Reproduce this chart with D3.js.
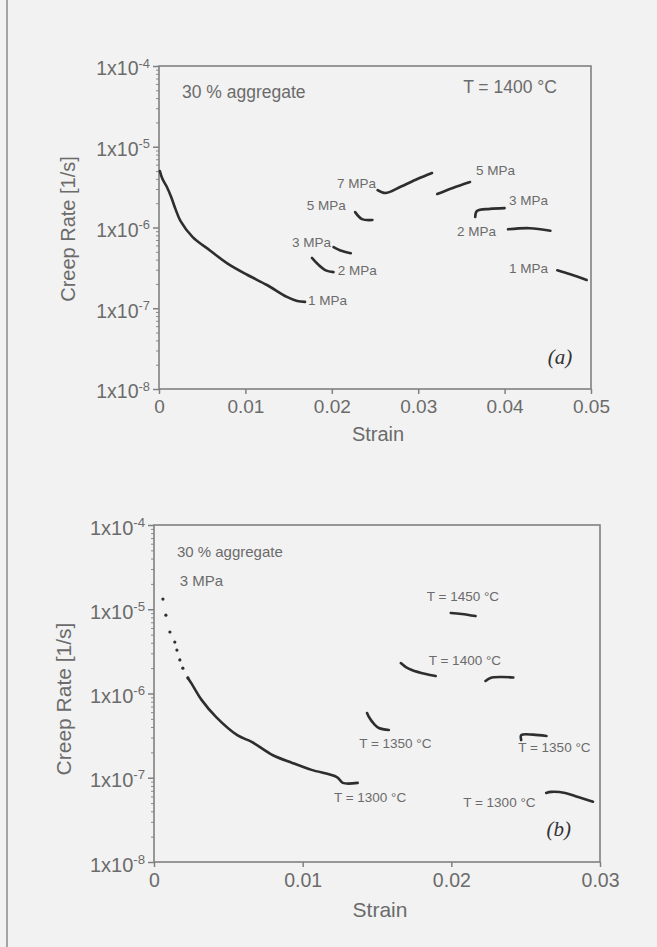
<!DOCTYPE html>
<html>
<head>
<meta charset="utf-8">
<script src="https://cdn.jsdelivr.net/npm/d3@7"></script>
<style>
  body { margin: 0; background: #f2f2f2; }
  svg { display: block; }
  text { font-family: "Liberation Sans", Arial, sans-serif; fill: #6b6b6b; }
</style>
</head>
<body>
<script>
// ---------- data, panel (a): T = 1400 C, creep rate vs strain ----------
var a1MPa = [[0.0001,5.0e-6],[0.0004,4.0e-6],[0.0009,3.2e-6],[0.0014,2.4e-6],[0.0019,1.7e-6],
  [0.0025,1.2e-6],[0.0039,7.6e-7],[0.0059,5.2e-7],[0.0079,3.6e-7],[0.0102,2.6e-7],
  [0.0125,1.94e-7],[0.0148,1.38e-7],[0.016,1.23e-7],[0.0169,1.2e-7]];
var a2MPa = [[0.0177,4.2e-7],[0.0184,3.5e-7],[0.0193,2.95e-7],[0.0202,2.8e-7]];
var a3MPa = [[0.0202,5.7e-7],[0.021,5.2e-7],[0.0222,4.8e-7]];
var a5MPa = [[0.0227,1.55e-6],[0.0235,1.27e-6],[0.0247,1.24e-6]];
var a7MPa = [[0.0253,2.9e-6],[0.0262,2.67e-6],[0.0279,3.17e-6],[0.0299,3.98e-6],[0.0316,4.73e-6]];
var a5MPaB = [[0.0322,2.6e-6],[0.034,3.09e-6],[0.036,3.66e-6]];
var a3MPaB = [[0.0366,1.35e-6],[0.0368,1.6e-6],[0.0383,1.7e-6],[0.04,1.74e-6]];
var a2MPaB = [[0.0404,9.5e-7],[0.0429,9.8e-7],[0.0453,9.1e-7]];
var a1MPaB = [[0.0461,2.95e-7],[0.0476,2.63e-7],[0.0495,2.24e-7]];
var seriesA = [a1MPa, a2MPa, a3MPa, a5MPa, a7MPa, a5MPaB, a3MPaB, a2MPaB, a1MPaB];

// labels of panel (a) in data units [text, strain, rate]
var labelsA = [["1 MPa",0.01725,1.26e-7],["2 MPa",0.0207,2.95e-7],["3 MPa",0.0154,6.6e-7],
  ["5 MPa",0.0171,1.86e-6],["7 MPa",0.0206,3.55e-6],["5 MPa",0.0367,5.1e-6],
  ["3 MPa",0.0405,2.2e-6],["2 MPa",0.0345,9.1e-7],["1 MPa",0.0405,3.16e-7]];
var notesA = [["30 % aggregate",0.00266,4.8e-5],["T = 1400 °C",0.0352,5.5e-5]];

// ---------- data, panel (b): 3 MPa, temperature steps ----------
var b1300Dots = [[0.0006,1.32e-5],[0.0008,8.5e-6],[0.00107,5.37e-6],[0.0014,4.08e-6],
  [0.00154,3.28e-6],[0.00174,2.5e-6],[0.00194,2.0e-6],[0.00228,1.53e-6]];
var b1300 = [[0.00228,1.53e-6],[0.00254,1.3e-6],[0.0032,8.4e-7],[0.0042,5.2e-7],[0.0056,3.2e-7],
  [0.0066,2.65e-7],[0.008,1.85e-7],[0.0093,1.5e-7],[0.0106,1.24e-7],[0.0123,1.02e-7],
  [0.0127,8.7e-8],[0.0137,8.7e-8]];
var b1350 = [[0.01433,5.87e-7],[0.01446,5.26e-7],[0.0148,4.35e-7],[0.01513,3.9e-7],[0.0158,3.69e-7]];
var b1400 = [[0.0166,2.3e-6],[0.01694,2.06e-6],[0.01734,1.9e-6],[0.01828,1.7e-6],[0.01895,1.61e-6]];
var b1450 = [[0.01996,9.04e-6],[0.0207,8.8e-6],[0.02163,8.3e-6]];
var b1400B = [[0.0223,1.41e-6],[0.02263,1.53e-6],[0.02337,1.57e-6],[0.02417,1.55e-6]];
var b1350B = [[0.0247,2.8e-7],[0.0247,3.2e-7],[0.0255,3.25e-7],[0.0264,3.13e-7]];
var b1300B = [[0.02638,6.6e-8],[0.02672,6.8e-8],[0.02766,6.6e-8],[0.02853,5.9e-8],[0.02953,5.2e-8]];
var seriesB = [b1300, b1350, b1400, b1450, b1400B, b1350B, b1300B];

var labelsB = [["T = 1450 °C",0.01835,1.44e-5],["T = 1400 °C",0.01848,2.5e-6],
  ["T = 1350 °C",0.0138,2.6e-7],["T = 1350 °C",0.0245,2.3e-7],
  ["T = 1300 °C",0.0121,5.9e-8],["T = 1300 °C",0.0208,5.1e-8]];
var notesB = [["30 % aggregate",0.00154,4.8e-5],["3 MPa",0.00174,2.2e-5]];

var yTicks = [1e-4, 1e-5, 1e-6, 1e-7, 1e-8];
var xTicksA = [0, 0.01, 0.02, 0.03, 0.04, 0.05];
var xTicksB = [0, 0.01, 0.02, 0.03];

var svg = d3.select("body").append("svg")
    .attr("width", 657)
    .attr("height", 947);

// page edge of the scan
svg.append("line")
    .attr("x1", 7).attr("x2", 7).attr("y1", 0).attr("y2", 947)
    .style("stroke", "#8a8a8a").style("stroke-width", 1.5);

function drawPanel(p) {
  var x = d3.scaleLinear().domain(p.xDomain).range([p.left, p.right]);
  var y = d3.scaleLog().domain([1e-8, 1e-4]).range([p.bottom, p.top]);

  var line = d3.line()
      .curve(d3.curveCatmullRom.alpha(0.5))
      .x(function(d) { return x(d[0]); })
      .y(function(d) { return y(d[1]); });

  // minor log ticks
  var minor = [];
  for (var e = -8; e < -4; e++) {
    for (var k = 2; k < 10; k++) minor.push(k * Math.pow(10, e));
  }
  svg.append("g")
      .attr("transform", "translate(" + p.left + ",0)")
      .call(d3.axisLeft(y).tickValues(minor).tickSize(3).tickFormat(""))
      .call(function(g) { g.select(".domain").remove(); })
      .selectAll("line").style("stroke", "#8a8a8a");

  // y axis with 1x10^n labels
  var ya = svg.append("g")
      .attr("transform", "translate(" + p.left + ",0)")
      .call(d3.axisLeft(y).tickValues(yTicks).tickSize(6).tickPadding(3).tickFormat(""));
  ya.select(".domain").remove();
  ya.selectAll("line").style("stroke", "#808080").style("stroke-width", 1.5);
  ya.selectAll(".tick text").each(function(d) {
    var t = d3.select(this)
        .attr("font-size", p.tickFont)
        .attr("dy", "0.45em")
        .style("fill", "#6b6b6b");
    t.append("tspan").text("1x10");
    t.append("tspan")
        .attr("dy", "-0.6em")
        .attr("font-size", p.tickFont * 0.66)
        .text(Math.round(Math.log10(d)));
  });

  // x axis
  var xa = svg.append("g")
      .attr("transform", "translate(0," + p.bottom + ")")
      .call(d3.axisBottom(x).tickValues(p.xTicks).tickSize(5).tickPadding(6)
        .tickFormat(function(d) { return d === 0 ? "0" : d3.format(".2f")(d); }));
  xa.select(".domain").remove();
  xa.selectAll("line").style("stroke", "#808080").style("stroke-width", 1.5);
  xa.selectAll("text").attr("font-size", p.tickFont - 0.5).style("fill", "#6b6b6b");

  // frame
  svg.append("rect")
      .attr("x", p.left).attr("y", p.top)
      .attr("width", p.right - p.left).attr("height", p.bottom - p.top)
      .style("fill", "none").style("stroke", "#808080").style("stroke-width", 1.6);

  // axis titles
  svg.append("text")
      .attr("x", (p.left + p.right) / 2 + 3)
      .attr("y", p.bottom + p.titleGap)
      .attr("text-anchor", "middle")
      .attr("font-size", p.titleFont)
      .text("Strain");
  svg.append("text")
      .attr("transform", "translate(" + p.yTitleX + "," + p.yTitleY + ") rotate(-90)")
      .attr("text-anchor", "middle")
      .attr("font-size", p.titleFont)
      .text("Creep Rate [1/s]");

  // curves
  p.series.forEach(function(s) {
    svg.append("path")
        .datum(s)
        .attr("d", line)
        .style("fill", "none")
        .style("stroke", "#2e2e2e")
        .style("stroke-width", 2.6)
        .style("stroke-linejoin", "round")
        .style("stroke-linecap", "round");
  });
  if (p.dots) {
    svg.selectAll(null)
        .data(p.dots)
      .enter().append("circle")
        .attr("cx", function(d) { return x(d[0]); })
        .attr("cy", function(d) { return y(d[1]); })
        .attr("r", 1.6)
        .style("fill", "#2e2e2e");
  }

  // annotations
  p.labels.forEach(function(l) {
    svg.append("text")
        .attr("x", x(l[1])).attr("y", y(l[2]))
        .attr("dy", "0.35em")
        .attr("font-size", p.labelFont)
        .text(l[0]);
  });
  p.notes.forEach(function(l) {
    svg.append("text")
        .attr("x", x(l[1])).attr("y", y(l[2]))
        .attr("dy", "0.35em")
        .attr("font-size", p.noteFont)
        .text(l[0]);
  });
  svg.append("text")
      .attr("x", x(p.tag[1])).attr("y", y(p.tag[2]))
      .attr("dy", "0.35em")
      .attr("font-size", 21)
      .style("font-family", "'Liberation Serif', 'DejaVu Serif', serif")
      .style("font-style", "italic")
      .style("fill", "#333")
      .text(p.tag[0]);
}

drawPanel({
  left: 159, right: 591, top: 66, bottom: 389,
  xDomain: [0, 0.05], xTicks: xTicksA,
  series: seriesA, labels: labelsA, notes: notesA, tag: ["(a)", 0.045, 2.5e-8],
  tickFont: 19.5, titleFont: 20, labelFont: 13.5, noteFont: 17.5,
  titleGap: 52, yTitleX: 75, yTitleY: 229
});

drawPanel({
  left: 154, right: 600, top: 525, bottom: 862,
  xDomain: [0, 0.03], xTicks: xTicksB,
  series: seriesB, dots: b1300Dots, labels: labelsB, notes: notesB, tag: ["(b)", 0.0264, 2.5e-8],
  tickFont: 20, titleFont: 21, labelFont: 13.5, noteFont: 15,
  titleGap: 55, yTitleX: 71, yTitleY: 699
});
</script>
</body>
</html>
